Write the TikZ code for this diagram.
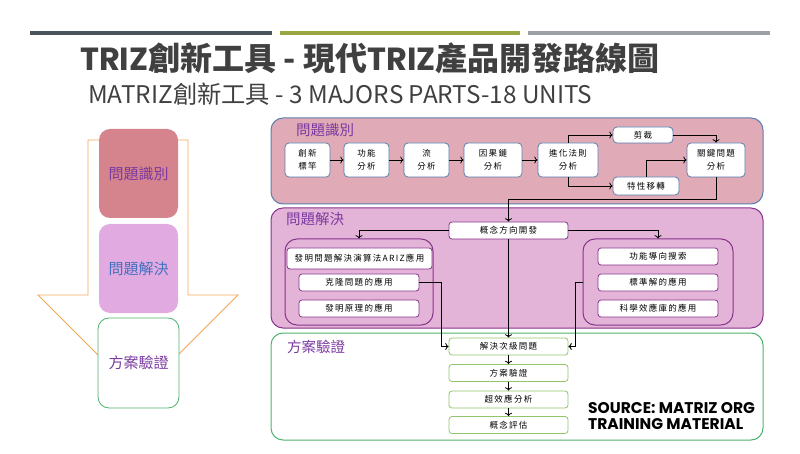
\documentclass[tikz,border=0pt]{standalone}
\usepackage{fontspec}
\usepackage{xcolor}
\setmainfont{Noto Sans CJK TC}
\newfontfamily\popfont{Poppins}
\newfontfamily\boxfont[LetterSpace=15]{Noto Sans CJK TC}
\usetikzlibrary{arrows.meta}

\definecolor{barA}{HTML}{48545A}
\definecolor{barB}{HTML}{9AA63F}
\definecolor{barC}{HTML}{9CA1A8}
\definecolor{titlegray}{HTML}{404040}
\definecolor{arroworange}{HTML}{F2A65A}
\definecolor{rosebox}{HTML}{D5838C}
\definecolor{lilacbox}{HTML}{E1ABE1}
\definecolor{stagegreen}{HTML}{4DB36E}
\definecolor{labelpurple}{HTML}{7B3AA0}
\definecolor{labelblue}{HTML}{4170BF}
\definecolor{idfill}{HTML}{E0AAB6}
\definecolor{idline}{HTML}{5A7FAE}
\definecolor{solvefill}{HTML}{E4B3D8}
\definecolor{solveline}{HTML}{86358A}
\definecolor{stepgreen}{HTML}{92C46A}

\begin{document}
\begin{tikzpicture}[x=1pt, y=-1pt,
	panel/.style={
		rounded corners=12pt, line width=1pt, inner sep=0pt
	},
	stage/.style={
		rounded corners=11pt, inner sep=0pt,
		minimum width=79pt, minimum height=89pt,
		font=\fontsize{15}{18}\selectfont
	},
	idbox/.style={
		draw=idline, fill=white, rounded corners=4pt, line width=0.8pt,
		inner sep=0pt, align=center,
		font=\boxfont\fontsize{8.5}{13}\selectfont
	},
	solvebox/.style={
		draw=solveline, fill=white, rounded corners=3pt, line width=0.8pt,
		inner sep=0pt, minimum width=120pt, minimum height=17pt,
		font=\boxfont\fontsize{8.5}{10}\selectfont
	},
	checkbox/.style={
		draw=stepgreen, fill=white, rounded corners=3pt, line width=0.8pt,
		inner sep=0pt, minimum width=119pt, minimum height=17pt,
		font=\boxfont\fontsize{8.5}{10}\selectfont
	},
	paneltitle/.style={
		anchor=west, inner sep=0pt, text=labelpurple,
		font=\fontsize{14.5}{16}\selectfont
	},
	arr/.style={->, line width=0.8pt, black},
	]
	\useasboundingbox (0,0) rectangle (800,454);
	
	% header
	\fill[barA] (30,31) rectangle (272,35);
	\fill[barB] (280,31) rectangle (520,35);
	\fill[barC] (528,31) rectangle (770,35);
	\node[anchor=west, inner sep=0pt, text=titlegray] (title) at (80,58)
		{\fontsize{32}{34}\selectfont{\popfont\bfseries TRIZ}\textbf{創新工具 - 現代}{\popfont\bfseries TRIZ}\textbf{產品開發路線圖}};
	\node[anchor=west, inner sep=0pt, text=titlegray] (subtitle) at (88,94)
		{\fontsize{24.3}{26}\selectfont MATRIZ創新工具 - 3 MAJORS PARTS-18 UNITS};
	
	% left: big arrow with the three stages
	\draw[arroworange, line width=0.8pt] (88,140) -- (188,140) -- (188,295) -- (238,295)
		-- (138,395) -- (38,295) -- (88,295) -- cycle;
	\node[stage, fill=rosebox, text=labelpurple] (stageid) at (138.5,173.5) {問題識別};
	\node[stage, fill=lilacbox, text=labelblue] (stagesolve) at (138.5,268.5) {問題解決};
	\node[stage, draw=stagegreen, fill=white, text=labelpurple, line width=0.8pt,
		minimum width=81pt, minimum height=90pt] (stagecheck) at (138.5,363) {方案驗證};
	
	% right: three panels
	\node[panel, draw=idline, fill=idfill, minimum width=492pt, minimum height=86pt] (idpanel) at (517,161) {};
	\node[panel, draw=solveline, fill=solvefill, minimum width=492pt, minimum height=120pt] (solvepanel) at (517,268) {};
	\node[panel, draw=stagegreen, fill=white, minimum width=492pt, minimum height=107pt] (checkpanel) at (517,386.5) {};
	\node[paneltitle] (idtitle) at (296,130) {問題識別};
	\node[paneltitle] (solvetitle) at (286,219) {問題解決};
	\node[paneltitle] (checktitle) at (287,347) {方案驗證};
	
	% problem identification
	\node[idbox, minimum width=45pt, minimum height=34pt] (bench) at (307.5,160) {創新\\標竿};
	\node[idbox, minimum width=45pt, minimum height=34pt] (func) at (366.5,160) {功能\\分析};
	\node[idbox, minimum width=45pt, minimum height=34pt] (flow) at (426.5,160) {流\\分析};
	\node[idbox, minimum width=58pt, minimum height=34pt] (cause) at (493,160) {因果鏈\\分析};
	\node[idbox, minimum width=60pt, minimum height=34pt] (evol) at (568,160) {進化法則\\分析};
	\node[idbox, minimum width=60pt, minimum height=16pt] (trim) at (643,135) {剪裁};
	\node[idbox, minimum width=66pt, minimum height=18pt] (transfer) at (646,186) {特性移轉};
	\node[idbox, minimum width=58pt, minimum height=34pt] (keyprob) at (716,160) {關鍵問題\\分析};
	
	\draw[arr] (bench) -- (func);
	\draw[arr] (func) -- (flow);
	\draw[arr] (flow) -- (cause);
	\draw[arr] (cause) -- (evol);
	\draw[arr] (evol.north) |- (trim.west);
	\draw[arr] (evol.south) |- (transfer.west);
	\draw[arr] (trim.east) -| (keyprob.north);
	\draw[arr] (transfer.north) |- (keyprob.west);
	
	% problem solving
	\node[solvebox, minimum width=119pt] (concept) at (508.5,230.5) {概念方向開發};
	\node[panel, draw=solveline, minimum width=148pt, minimum height=86pt] (leftgroup) at (359,282) {};
	\node[panel, draw=solveline, minimum width=150pt, minimum height=86pt] (rightgroup) at (658,282) {};
	\node[solvebox, minimum width=145pt, minimum height=21pt] (ariz) at (359.5,258.5) {發明問題解決演算法ARIZ應用};
	\node[solvebox] (clone) at (359,282.5) {克隆問題的應用};
	\node[solvebox] (principle) at (359,308.5) {發明原理的應用};
	\node[solvebox] (search) at (658,256.5) {功能導向搜索};
	\node[solvebox] (standard) at (658,282.5) {標準解的應用};
	\node[solvebox] (effects) at (658,308.5) {科學效應庫的應用};
	
	\draw[arr] (keyprob.south) -- ++(0,22) -| (concept.north);
	\draw[arr] (concept.west) -| (leftgroup.north);
	\draw[arr] (concept.east) -| (rightgroup.north);
	
	% solution verification
	\node[checkbox] (subprob) at (508.5,346.5) {解決次級問題};
	\node[checkbox] (verify) at (508.5,373) {方案驗證};
	\node[checkbox] (supereff) at (508.5,399.5) {超效應分析};
	\node[checkbox] (evalc) at (508.5,425) {概念評估};
	
	\draw[arr] (concept.south) -- (subprob.north);
	\draw[arr] (clone.east) -- ++(22,0) |- (subprob.west);
	\draw[arr] (rightgroup.west) -- ++(-7,0) |- (subprob.east);
	\draw[arr] (subprob) -- (verify);
	\draw[arr] (verify) -- (supereff);
	\draw[arr] (supereff) -- (evalc);
	
	\node[anchor=west, align=left, inner sep=0pt, font=\popfont\bfseries\fontsize{15.5}{16.5}\selectfont] (source) at (588,416)
		{SOURCE: MATRIZ ORG\\TRAINING MATERIAL};
\end{tikzpicture}
\end{document}
